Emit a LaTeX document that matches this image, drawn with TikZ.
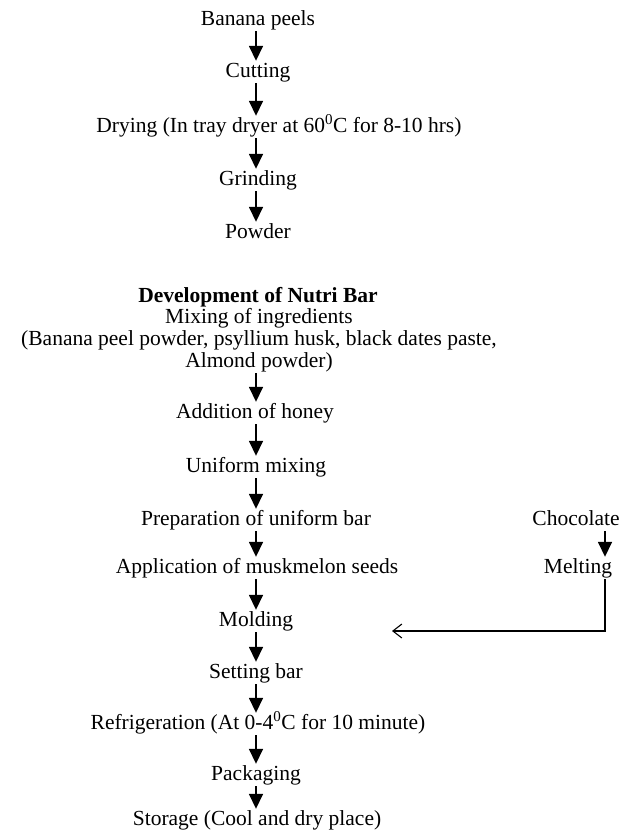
\documentclass[tikz,border=0pt]{standalone}
\usepackage{fontspec}
\setmainfont{Liberation Serif}
\usetikzlibrary{arrows.meta}

\begin{document}
\begin{tikzpicture}[x=1pt,y=-1pt,
  every node/.style={font=\fontsize{21.5}{22}\selectfont},
  stage/.style={inner sep=1pt,text height=15pt,text depth=5pt},
  flow/.style={-{Triangle[length=15pt,width=14pt]},line width=1.6pt},
  side/.style={-{Straight Barb[length=9pt,width=14pt]},line width=1.1pt}]

  \useasboundingbox (0,0) rectangle (622,836);
  \coordinate (ax) at (256,0);
  \coordinate (cx) at (605,0);

  \node[stage] (bp) at (258,20) {Banana peels};
  \node[stage] (cut) at (258,72) {Cutting};
  \node[stage] (dry) at (279,127) {Drying (In tray dryer at 60\textsuperscript{0}C for 8-10 hrs)};
  \node[stage] (grind) at (258,180) {Grinding};
  \node[stage] (pow) at (258,233) {Powder};

  \node[stage] (dev) at (258,297) {\textbf{Development of Nutri Bar}};
  \node[inner sep=1pt,align=center] (mix) at (259,340) {Mixing of ingredients\\
    (Banana peel powder, psyllium husk, black dates paste,\\ Almond powder)};
  \node[stage] (honey) at (255,413) {Addition of honey};
  \node[stage] (unimix) at (256,467) {Uniform mixing};
  \node[stage] (prep) at (256,520) {Preparation of uniform bar};
  \node[stage] (seeds) at (257,568) {Application of muskmelon seeds};
  \node[stage] (mold) at (256,621) {Molding};
  \node[stage] (set) at (256,673) {Setting bar};
  \node[stage] (fridge) at (258,724) {Refrigeration (At 0-4\textsuperscript{0}C for 10 minute)};
  \node[stage] (pack) at (256,775) {Packaging};
  \node[stage] (store) at (257,820) {Storage (Cool and dry place)};

  \node[stage] (choc) at (576,520) {Chocolate};
  \node[stage] (melt) at (578,568) {Melting};
  \coordinate (mold in) at (392,631);

  \path[flow]
    (bp.south -| ax) edge (cut.north -| ax)
    (cut.south -| ax) edge (dry.north -| ax)
    (dry.south -| ax) edge (grind.north -| ax)
    (grind.south -| ax) edge (pow.north -| ax)
    (mix.south -| ax) edge (honey.north -| ax)
    (honey.south -| ax) edge (unimix.north -| ax)
    (unimix.south -| ax) edge (prep.north -| ax)
    (prep.south -| ax) edge (seeds.north -| ax)
    (seeds.south -| ax) edge (mold.north -| ax)
    (mold.south -| ax) edge (set.north -| ax)
    (set.south -| ax) edge (fridge.north -| ax)
    (fridge.south -| ax) edge (pack.north -| ax)
    (pack.south -| ax) edge (store.north -| ax)
    (choc.south -| cx) edge (melt.north -| cx)
    ;
  \draw[side] (melt.south -| cx) |- (mold in);
\end{tikzpicture}
\end{document}
